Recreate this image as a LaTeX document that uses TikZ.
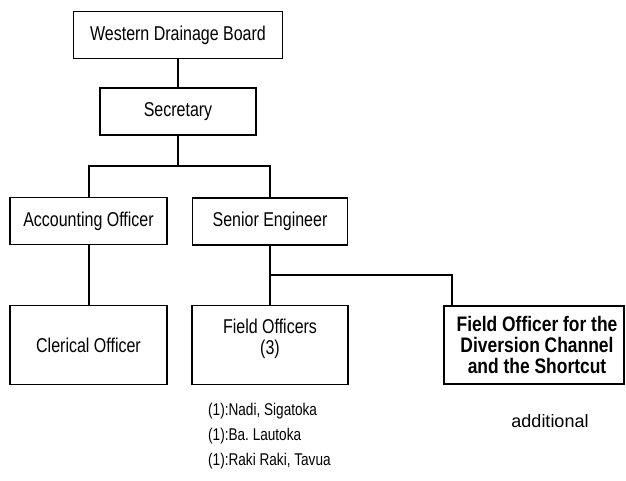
\documentclass[tikz,border=0pt]{standalone}
\usepackage{fontspec}
\setmainfont{Liberation Sans}
\newfontfamily\cond{Liberation Sans}[FakeStretch=0.8]
\newfontfamily\condb{Liberation Sans}[FakeStretch=0.83]
\frenchspacing
\begin{document}
\begin{tikzpicture}[x=1pt,y=-1pt,
  box/.style={draw=black,line width=1.3pt,rectangle,inner sep=0pt,align=center,
    font=\cond\fontsize{20}{21}\selectfont},
  boldbox/.style={box,font=\condb\bfseries\fontsize{21}{21}\selectfont},
  conn/.style={draw=black,line width=2pt},
  listtxt/.style={anchor=west,inner sep=0pt,font=\cond\fontsize{17}{18}\selectfont},
  note/.style={inner sep=0pt,font=\fontsize{18}{20}\selectfont}]
\useasboundingbox (0,0) rectangle (626,480);
\node[box,minimum width=209pt,minimum height=47pt] (wdb) at (178,35) {Western Drainage Board};
\node[box,minimum width=156pt,minimum height=47pt] (sec) at (178,111.5) {Secretary};
\node[box,minimum width=157pt,minimum height=47pt] (acc) at (88.5,221) {Accounting Officer};
\node[box,minimum width=155pt,minimum height=47pt] (se) at (270,221.5) {Senior Engineer};
\node[box,minimum width=157pt,minimum height=79pt] (cler) at (88.5,345) {Clerical Officer};
\node[box,minimum width=156pt,minimum height=79pt] (fo) at (270,345) {Field Officers\\(3)\\[-4pt]};
\node[boldbox,minimum width=180pt,minimum height=78pt,xshift=0pt] (fod) at (534,345) {\hspace*{6pt}Field Officer for the\\\hspace*{6pt}Diversion Channel\\\hspace*{6pt}and the Shortcut};
\node[listtxt] (l1) at (208,411) {(1):Nadi, Sigatoka};
\node[listtxt] (l2) at (208,436) {(1):Ba. Lautoka};
\node[listtxt] (l3) at (208,461) {(1):Raki Raki, Tavua};
\node[note] (add) at (550,421) {additional};
\coordinate (j1) at (178,166);
\coordinate (j2) at (270,275);
\coordinate (j3) at (452,275);
\draw[conn] (wdb) -- (sec);
\draw[conn] (sec) -- (j1);
\draw[conn] (acc.north) |- (j1) -| (se.north);
\draw[conn] (acc) -- (cler);
\draw[conn] (se) -- (fo);
\draw[conn] (j2) -- (j3) -- (j3 |- fod.north);
\end{tikzpicture}
\end{document}
